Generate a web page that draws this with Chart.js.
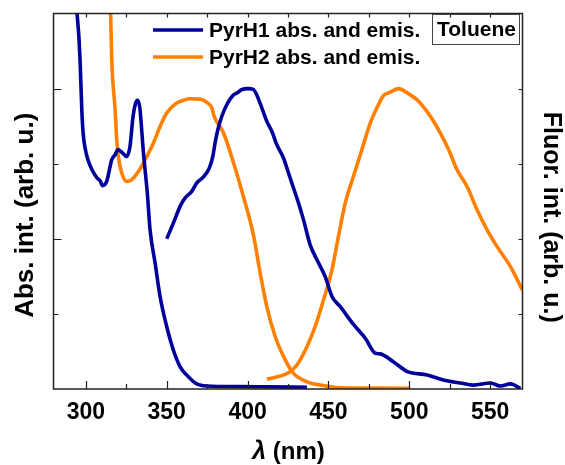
<!DOCTYPE html>
<html>
<head>
<meta charset="utf-8">
<script src="https://cdn.jsdelivr.net/npm/chart.js@4.4.1/dist/chart.umd.min.js"></script>
<style>
  html, body { margin: 0; padding: 0; background: #fff; }
  #wrap { width: 565px; height: 465px; }
</style>
</head>
<body>
<div id="wrap"><canvas id="spectra" width="565" height="465"></canvas></div>
<script>
// Wavelength tick labels (nm)
const wavelengthTicks = [300, 350, 400, 450, 500, 550];

// PyrH1 absorption
const pyrH1AbsNm  = [293.6, 294.5, 295.8, 296.4, 297.5, 298.3, 299.5, 301.3, 303.8, 306.9, 308.8, 310.4, 312.9, 316.0, 318.1, 319.9, 322.2, 325.3, 327.3, 329.2, 330.7, 331.9, 332.9, 333.5, 335.6, 338.0, 339.7, 342.8, 345.9, 350.0, 354.1, 358.3, 363.4, 368.6, 374.8, 395.4, 414.0, 436.7];
const pyrH1AbsVal = [1.30, 1.253, 1.163, 1.097, 0.93, 0.853, 0.803, 0.763, 0.730, 0.703, 0.693, 0.677, 0.691, 0.763, 0.780, 0.797, 0.788, 0.774, 0.808, 0.908, 0.950, 0.961, 0.950, 0.930, 0.787, 0.653, 0.530, 0.420, 0.308, 0.208, 0.130, 0.074, 0.041, 0.017, 0.010, 0.008, 0.007, 0.006];

// PyrH1 emission
const pyrH1EmNm  = [350.0, 354.1, 358.3, 361.4, 365.5, 368.6, 372.7, 376.4, 378.5, 379.9, 381.6, 384.1, 387.2, 390.9, 393.7, 396.5, 400.5, 403.6, 406.1, 408.8, 411.9, 415.0, 418.1, 422.2, 425.3, 428.4, 431.5, 434.6, 438.7, 442.9, 448.0, 452.2, 457.3, 465.5, 472.8, 479.0, 482.0, 490.1, 498.8, 511.1, 521.0, 531.6, 539.6, 550.1, 556.3, 562.5, 568.7];
const pyrH1EmVal = [0.500, 0.552, 0.608, 0.636, 0.658, 0.686, 0.706, 0.736, 0.774, 0.819, 0.863, 0.908, 0.947, 0.977, 0.986, 0.997, 1.000, 0.997, 0.974, 0.936, 0.891, 0.858, 0.813, 0.769, 0.719, 0.669, 0.619, 0.563, 0.480, 0.430, 0.374, 0.308, 0.274, 0.215, 0.169, 0.119, 0.117, 0.091, 0.058, 0.047, 0.030, 0.020, 0.013, 0.020, 0.010, 0.017, 0.002];

// PyrH2 absorption
const pyrH2AbsNm  = [314.7, 315.3, 316.0, 318.1, 319.1, 320.1, 322.2, 325.3, 328.4, 332.5, 336.6, 341.8, 345.9, 350.0, 356.2, 360.3, 364.5, 370.7, 374.8, 377.9, 379.3, 385.1, 391.3, 397.4, 403.6, 407.8, 411.9, 417.1, 423.3, 428.4, 436.7, 444.9, 457.3, 482.0, 500.6];
const pyrH2AbsVal = [1.30, 1.253, 1.097, 0.930, 0.830, 0.774, 0.719, 0.691, 0.697, 0.724, 0.763, 0.819, 0.874, 0.919, 0.952, 0.961, 0.966, 0.965, 0.954, 0.936, 0.908, 0.853, 0.753, 0.641, 0.513, 0.386, 0.274, 0.174, 0.097, 0.052, 0.024, 0.013, 0.004, 0.003, 0.002];

// PyrH2 emission
const pyrH2EmNm  = [411.9, 420.2, 425.3, 430.5, 436.7, 441.8, 447.0, 452.2, 456.2, 460.4, 465.5, 470.7, 475.9, 480.0, 484.1, 488.2, 493.4, 498.6, 505.7, 513.0, 519.2, 524.3, 529.5, 535.7, 541.9, 548.1, 554.3, 562.5, 569.9];
const pyrH2EmVal = [0.033, 0.043, 0.054, 0.080, 0.141, 0.208, 0.297, 0.397, 0.508, 0.619, 0.708, 0.797, 0.886, 0.936, 0.977, 0.988, 1.000, 0.986, 0.958, 0.908, 0.852, 0.797, 0.730, 0.674, 0.597, 0.530, 0.474, 0.408, 0.330];

const legendLabels = ['PyrH1 abs. and emis.', 'PyrH2 abs. and emis.'];
const solventLabel = 'Toluene';
const xTitleSymbol = 'λ';
const xTitleUnit = ' (nm)';
const leftTitle = 'Abs. int. (arb. u.)';
const rightTitle = 'Fluor. int. (arb. u.)';

const BLUE = '#00009c';
const ORANGE = '#ff8000';
const FONT = '"Liberation Sans", Arial, sans-serif';

const toPoints = (xs, ys) => xs.map((x, i) => ({ x: x, y: ys[i] }));

function lineSet(label, xs, ys, color, axis) {
  return {
    label: label,
    data: toPoints(xs, ys),
    borderColor: color,
    borderWidth: 3.6,
    pointRadius: 0,
    fill: false,
    cubicInterpolationMode: 'monotone',
    yAxisID: axis
  };
}

// Frame, inward ticks, axis titles, legend and solvent tag
const decorations = {
  id: 'decorations',
  afterDraw(chart) {
    const { ctx, chartArea: a, scales } = chart;
    const xs = scales.x, ys = scales.y;
    ctx.save();
    ctx.strokeStyle = '#222';
    ctx.lineWidth = 1.5;
    ctx.strokeRect(a.left, a.top, a.right - a.left, a.bottom - a.top);

    ctx.lineWidth = 1.2;
    ctx.beginPath();
    for (let v = 275; v <= 575; v += 25) {
      if (v < xs.min || v > xs.max) continue;
      const px = Math.round(xs.getPixelForValue(v)) + 0.5;
      const len = v % 50 === 0 ? 8 : 5;
      ctx.moveTo(px, a.bottom); ctx.lineTo(px, a.bottom - len);
      ctx.moveTo(px, a.top); ctx.lineTo(px, a.top + 4);
    }
    for (let v = 0.25; v < 1.25; v += 0.25) {
      const py = Math.round(ys.getPixelForValue(v)) + 0.5;
      const major = Math.abs(v - 0.5) < 1e-6 || Math.abs(v - 1.0) < 1e-6;
      ctx.moveTo(a.left, py); ctx.lineTo(a.left + (major ? 8 : 5), py);
      ctx.moveTo(a.right, py); ctx.lineTo(a.right - 4, py);
    }
    ctx.stroke();

    // axis titles
    ctx.fillStyle = '#000';
    ctx.textBaseline = 'middle';
    ctx.textAlign = 'center';
    ctx.font = 'bold 26px ' + FONT;
    ctx.save();
    ctx.translate(26, (a.top + a.bottom) / 2 + 14);
    ctx.rotate(-Math.PI / 2);
    ctx.fillText(leftTitle, 0, 0);
    ctx.restore();
    ctx.font = 'bold 25px ' + FONT;
    ctx.save();
    ctx.translate(551, (a.top + a.bottom) / 2 + 16);
    ctx.rotate(Math.PI / 2);
    ctx.fillText(rightTitle, 0, 0);
    ctx.restore();

    const symFont = 'italic bold 25px ' + FONT;
    const unitFont = 'bold 24px ' + FONT;
    ctx.font = symFont; const w1 = ctx.measureText(xTitleSymbol).width;
    ctx.font = unitFont; const w2 = ctx.measureText(xTitleUnit).width;
    const cx = 288.5, by = 459;
    ctx.textAlign = 'left';
    ctx.textBaseline = 'alphabetic';
    ctx.font = symFont; ctx.fillText(xTitleSymbol, cx - (w1 + w2) / 2, by);
    ctx.font = unitFont; ctx.fillText(xTitleUnit, cx - (w1 + w2) / 2 + w1, by);

    // legend
    const colors = [BLUE, ORANGE];
    const rows = [30, 57];
    ctx.font = 'bold 21px ' + FONT;
    ctx.textBaseline = 'middle';
    legendLabels.forEach((txt, i) => {
      ctx.strokeStyle = colors[i];
      ctx.lineWidth = 3.6;
      ctx.beginPath();
      ctx.moveTo(153, rows[i]); ctx.lineTo(203, rows[i]);
      ctx.stroke();
      ctx.fillStyle = '#000';
      ctx.fillText(txt, 209, rows[i] + 1);
    });

    // solvent tag
    ctx.strokeStyle = '#444';
    ctx.lineWidth = 1;
    ctx.strokeRect(432.5, 14.5, 87, 30);
    ctx.fillText(solventLabel, 437, 30);
    ctx.restore();
  }
};

new Chart(document.getElementById('spectra'), {
  type: 'line',
  data: {
    datasets: [
      lineSet('PyrH1 abs.', pyrH1AbsNm, pyrH1AbsVal, BLUE, 'y'),
      lineSet('PyrH1 emis.', pyrH1EmNm, pyrH1EmVal, BLUE, 'y2'),
      lineSet('PyrH2 abs.', pyrH2AbsNm, pyrH2AbsVal, ORANGE, 'y'),
      lineSet('PyrH2 emis.', pyrH2EmNm, pyrH2EmVal, ORANGE, 'y2')
    ]
  },
  options: {
    responsive: false,
    animation: false,
    layout: { padding: { left: 0, right: 0, top: 13.5, bottom: 0 } },
    plugins: { legend: { display: false }, tooltip: { enabled: false } },
    scales: {
      x: {
        type: 'linear', position: 'bottom', min: 280, max: 570,
        afterBuildTicks: s => { s.ticks = wavelengthTicks.map(v => ({ value: v })); },
        afterFit: s => { s.height = 76; },
        grid: { display: false }, border: { display: false },
        ticks: {
          color: '#000', padding: 2, maxRotation: 0, autoSkip: false,
          font: { family: FONT, size: 23, weight: 'bold' }
        }
      },
      y: {
        type: 'linear', position: 'left', min: 0, max: 1.25,
        afterFit: s => { s.width = 53.5; },
        grid: { display: false }, border: { display: false },
        ticks: { display: false }
      },
      y2: {
        type: 'linear', position: 'right', min: 0, max: 1.25,
        afterFit: s => { s.width = 42.5; },
        grid: { display: false }, border: { display: false },
        ticks: { display: false }
      }
    }
  },
  plugins: [decorations]
});
</script>
</body>
</html>
